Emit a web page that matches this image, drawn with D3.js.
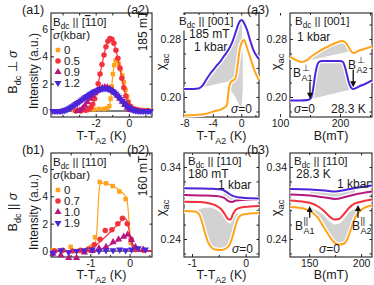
<!DOCTYPE html>
<html>
<head>
<meta charset="utf-8">
<script src="https://cdn.jsdelivr.net/npm/d3@7"></script>
<style>
body { margin:0; background:#fff; }
text { font-family: "Liberation Sans", Arial, sans-serif; fill:#1a1a1a; }
.axis text { font-size:10.5px; }
.axis line { stroke:#222; stroke-width:1; }
</style>
</head>
<body>
<div id="chart"></div>
<script>
"use strict";
(function() {

const WIDTH = 374
const HEIGHT = 285

const ORANGE = "#ffa31a"
const RED = "#f4323e"
const MAGENTA = "#b6177e"
const BLUE = "#4d25d8"
const GRAY = "#d2d2d2"

// panel boxes (pixels)
const COLS = [[51, 152], [184, 259], [290, 372]]
const ROWS = [[13, 117], [153, 257]]

// ---- (a1) neutron intensity, B || [-110] perp sigma ; [T-T_A2, intensity]
const A1_LEGEND = ["0", "0.5", "0.9", "1.2"]
const A1_ORANGE = [[-3.3,0.05],[-3.0,0.1],[-2.7,0.1],[-2.4,0.12],[-2.1,0.12],[-1.8,0.15],[-1.5,0.15],[-1.3,0.2],
  [-1.18,0.35],[-1.1,0.9],[-1.03,1.8],[-0.96,2.7],[-0.88,3.35],[-0.8,3.7],[-0.7,3.7],[-0.6,3.45],[-0.5,3.05],
  [-0.4,2.6],[-0.3,2.1],[-0.2,1.55],[-0.1,1.05],[0.0,0.65],[0.12,0.35],[0.3,0.18],[0.5,0.1],[0.75,0.07],[1.0,0.05],[1.25,0.04]]
const A1_RED = [[-3.2,0],[-2.9,0],[-2.6,0.05],[-2.45,0.1],[-2.3,0.25],[-2.18,0.5],[-2.06,0.9],[-1.95,1.4],[-1.85,2.0],
  [-1.74,2.7],[-1.62,3.4],[-1.5,4.1],[-1.38,4.7],[-1.26,5.1],[-1.14,5.3],[-1.02,5.25],[-0.9,4.95],[-0.78,4.45],
  [-0.66,3.85],[-0.54,3.15],[-0.42,2.4],[-0.3,1.7],[-0.18,1.1],[-0.06,0.65],[0.08,0.35],[0.25,0.18],[0.45,0.1],
  [0.65,0.06],[0.9,0.04],[1.15,0.03]]
const A1_MAGENTA = [[-3.1,0],[-2.95,0.05],[-2.8,0.2],[-2.65,0.4],[-2.5,0.65],[-2.35,0.9],[-2.2,1.1],[-2.05,1.3],
  [-1.9,1.48],[-1.75,1.6],[-1.6,1.7],[-1.45,1.75],[-1.3,1.72],[-1.15,1.62],[-1.0,1.5],[-0.85,1.32],[-0.7,1.12],
  [-0.55,0.9],[-0.4,0.68],[-0.25,0.45],[-0.1,0.25],[0.05,0.12],[0.2,0.05],[0.4,0.02]]
const A1_BLUE = [[-4.6,0],[-4.5,0],[-4.4,0],[-4.3,0],[-4.2,0],[-4.1,0],[-4.0,0.02],[-3.9,0.05],[-3.8,0.08],[-3.7,0.13],
  [-3.6,0.2],[-3.5,0.27],[-3.4,0.35],[-3.3,0.42],[-3.2,0.5],[-3.1,0.58],[-3.0,0.66],[-2.9,0.75],[-2.8,0.84],[-2.7,0.93],
  [-2.6,1.02],[-2.5,1.1],[-2.4,1.18],[-2.3,1.26],[-2.2,1.33],[-2.1,1.4],[-2.0,1.46],[-1.9,1.52],[-1.8,1.57],[-1.7,1.61],
  [-1.6,1.64],[-1.5,1.66],[-1.4,1.66],[-1.3,1.64],[-1.2,1.6],[-1.1,1.54],[-1.0,1.46],[-0.9,1.36],[-0.8,1.25],[-0.7,1.13],
  [-0.6,1.0],[-0.5,0.86],[-0.4,0.72],[-0.3,0.58],[-0.2,0.45],[-0.1,0.34],[0.0,0.25],[0.1,0.17],[0.2,0.11],[0.3,0.07],
  [0.4,0.04],[0.5,0.02],[0.6,0.01],[0.7,0],[0.8,0],[0.9,0],[1.0,0],[1.1,0],[1.2,0],[1.3,0]]

// ---- (b1) neutron intensity, B || [110] || sigma ; points and fitted lines
const B1_LEGEND = ["0", "0.7", "1.0", "1.9"]
const B1_ORANGE_PTS = [[-1.95,0.05],[-1.72,0.0],[-1.5,0.3],[-1.28,0.0],[-1.1,0.05],[-0.98,0.3],[-0.88,1.0],
  [-0.76,5.05],[-0.6,4.95],[-0.43,4.75],[-0.26,4.35],[-0.1,3.8],[0.03,0.6],[0.18,0.15],[0.38,0.05]]
const B1_ORANGE_FIT = [[-2,0],[-1.2,0.02],[-1.0,0.1],[-0.9,0.35],[-0.84,1.2],[-0.8,3.2],[-0.77,4.6],[-0.73,4.98],
  [-0.6,4.95],[-0.45,4.8],[-0.3,4.55],[-0.18,4.25],[-0.1,3.95],[-0.05,3.4],[-0.01,2.0],[0.03,0.7],[0.08,0.25],
  [0.2,0.08],[0.4,0.03],[0.57,0.02]]
const B1_RED_PTS = [[-1.9,0],[-1.7,0.05],[-1.45,0],[-1.25,0.05],[-1.05,0.15],[-0.9,0.45],[-0.75,0.85],[-0.62,1.5],
  [-0.45,1.55],[-0.3,2.0],[-0.18,2.4],[-0.06,2.0],[0.04,0.85],[0.15,0.1],[0.35,0.05]]
const B1_RED_FIT = [[-2,0],[-1.3,0],[-1.1,0.08],[-0.95,0.25],[-0.8,0.55],[-0.65,0.95],[-0.5,1.35],[-0.35,1.8],
  [-0.22,2.2],[-0.13,2.38],[-0.07,2.25],[-0.02,1.6],[0.03,0.8],[0.08,0.3],[0.15,0.1],[0.3,0.02],[0.57,0]]
const B1_MAG_PTS = [[-1.95,-0.2],[-1.75,-0.3],[-1.55,-0.5],[-1.35,-0.5],[-1.15,-0.1],[-0.95,0.0],[-0.78,0.2],
  [-0.6,0.3],[-0.42,0.65],[-0.28,0.85],[-0.15,1.05],[-0.05,1.2],[0.05,0.8],[0.15,0.3],[0.35,0.1]]
const B1_MAG_FIT = [[-2,0],[-1.0,0],[-0.85,0.05],[-0.7,0.18],[-0.55,0.35],[-0.4,0.6],[-0.25,0.85],[-0.12,1.08],
  [-0.05,1.2],[0.0,1.15],[0.05,0.8],[0.1,0.35],[0.17,0.1],[0.3,0.02],[0.57,0]]
const B1_BLUE_PTS = [[-1.95,-0.15],[-1.75,0.05],[-1.55,-0.1],[-1.35,0.0],[-1.15,0.05],[-0.95,0.1],[-0.78,0.0],
  [-0.6,0.05],[-0.42,0.05],[-0.25,0.1],[-0.1,0.05],[0.05,0.1],[0.22,0.2],[0.4,0.1]]

// ---- (a2) chi_ac vs T, B || [001], 185 mT
const A2_BLUE = [[-8.05,0.2110],[-7.2,0.2110],[-6.08,0.2117],[-5.65,0.2138],[-5.37,0.2166],[-4.95,0.2234],
  [-4.39,0.2317],[-3.83,0.2386],[-3.4,0.2441],[-2.98,0.2483],[-2.56,0.2545],[-2.0,0.2621],[-1.58,0.2690],
  [-1.15,0.2786],[-0.73,0.2910],[-0.45,0.2993],[-0.17,0.3048],[0.11,0.3062],[0.39,0.3021],[0.82,0.2924],
  [1.24,0.2786],[1.66,0.2662],[2.08,0.2579],[2.5,0.2524]]
const A2_ORANGE = [[-8.05,0.1745],[-6.5,0.1752],[-5.1,0.1766],[-3.7,0.1807],[-2.72,0.1834],[-2.0,0.189],
  [-1.86,0.2014],[-1.72,0.2124],[-1.58,0.218],[-1.3,0.222],[-1.02,0.2234],[-0.73,0.229],[-0.45,0.248],
  [-0.17,0.2676],[0.11,0.276],[0.39,0.2786],[0.82,0.2676],[1.38,0.251],[1.94,0.2345],[2.5,0.2234]]
const A2_GRAY_LOW = [[-1.8,0.2215],[-5.45,0.2135]]
const A2_GRAY_WEDGE = [[-1.72,0.2124],[-1.58,0.218],[-1.3,0.222],[-1.02,0.2234],[-0.73,0.229],[-0.45,0.248],
  [-0.17,0.2676],[0.11,0.276],[0.22,0.25],[0.22,0.21],[0.05,0.185],[-0.3,0.19],[-1.0,0.203]]

// ---- (a3) chi_ac vs B, B || [001], 28.3 K
const A3_BLUE = [[116.7,0.1952],[133.3,0.1952],[146.7,0.1959],[151.7,0.1986],[155,0.2097],[158.3,0.229],
  [161.7,0.2428],[165,0.2483],[170,0.2497],[183.3,0.2497],[200,0.2497],[205,0.2483],[208.3,0.2414],[211.7,0.2303],
  [215,0.2193],[218.3,0.2131],[221.7,0.211],[226.7,0.2124],[233.3,0.2152],[241.7,0.2179],[253.3,0.2228]]
const A3_ORANGE = [[116.7,0.2552],[126.7,0.251],[136.7,0.2483],[145,0.251],[153.3,0.2566],[163.3,0.2621],
  [175,0.2676],[186.7,0.2724],[196.7,0.2759],[203.3,0.2772],[208.3,0.2759],[213.3,0.2703],[218.3,0.2634],
  [223.3,0.2607],[230,0.2634],[240,0.2662],[253.3,0.2697]]
const A3_GRAY_ORANGE = [136.7, 221]
const A3_GRAY_BLUE = [151.7, 221.7]
const A3_GRAY_BLUE_START = [151.7, 0.1972]

// ---- (b2) chi_ac vs T, B || [110], 180 mT
const B2_BLUE = [[-1.15,0.3104],[-0.85,0.3101],[-0.6,0.3096],[-0.5,0.3092],[-0.42,0.308],[-0.34,0.3045],
  [-0.26,0.3005],[-0.18,0.2985],[-0.1,0.2976],[0.08,0.2965],[0.25,0.2963]]
const B2_MAGENTA = [[-1.15,0.3011],[-0.85,0.3004],[-0.55,0.2997],[-0.4,0.297],[-0.32,0.2925],[-0.25,0.2914],
  [-0.18,0.2935],[0.0,0.2942],[0.25,0.2949]]
const B2_RED = [[-1.15,0.2918],[-0.85,0.2914],[-0.665,0.2893],[-0.553,0.2865],[-0.459,0.2817],[-0.385,0.274],
  [-0.329,0.2678],[-0.282,0.2671],[-0.235,0.2747],[-0.179,0.281],[-0.086,0.2838],[0.082,0.2851],[0.25,0.2858]]
const B2_ORANGE = [[-1.15,0.2789],[-0.945,0.2782],[-0.87,0.2747],[-0.814,0.2636],[-0.758,0.2483],[-0.702,0.2358],
  [-0.646,0.2289],[-0.571,0.2254],[-0.459,0.2247],[-0.366,0.2268],[-0.291,0.2331],[-0.235,0.2456],[-0.179,0.2608],
  [-0.123,0.2706],[-0.049,0.274],[0.082,0.2754],[0.25,0.2761]]
const B2_GRAY_TOP = [[-0.92,0.2795],[-0.8,0.2828],[-0.66,0.2838],[-0.55,0.281],[-0.46,0.276],[-0.39,0.2685],
  [-0.33,0.2625],[-0.28,0.2615],[-0.235,0.2685],[-0.18,0.2745],[-0.12,0.2758]]

// ---- (b3) chi_ac vs B, B || [110], 28.3 K
const B3_BLUE = [[131.5,0.3094],[150.8,0.3088],[165.2,0.3074],[174.9,0.3060],[184.5,0.3081],[194.1,0.3108],[210.5,0.3143]]
const B3_MAGENTA = [[131.5,0.3018],[150.8,0.3004],[165.2,0.2976],[174.9,0.2956],[184.5,0.2983],[194.1,0.3018],[210.5,0.3060]]
const B3_RED = [[131.5,0.2935],[145.9,0.2914],[152.7,0.2893],[158.5,0.2851],[164.3,0.2789],[169.1,0.2719],
  [173.9,0.2671],[178.7,0.2678],[183.5,0.2747],[188.3,0.2831],[194.1,0.2893],[200.9,0.2921],[210.5,0.2949]]
const B3_ORANGE = [[131.5,0.2844],[145.9,0.2817],[153.7,0.2761],[158.5,0.2692],[163.3,0.2581],[168.1,0.2469],
  [172.9,0.2372],[177.7,0.2324],[182.5,0.2331],[186.4,0.2386],[190.3,0.2539],[194.1,0.2692],[198.9,0.2789],
  [204.7,0.2844],[210.5,0.2865]]
const B3_GRAY_TOP = [[145.9,0.2838],[152.7,0.2824],[158.5,0.2789],[164.3,0.2726],[169.1,0.265],[173.9,0.2601],
  [178.7,0.2608],[183.5,0.2678],[188.3,0.2768],[194.1,0.2824],[198.9,0.2817]]

const svg = d3.select("#chart").append("svg")
    .attr("width", WIDTH)
    .attr("height", HEIGHT)

// text with sub / sup / italic / overline runs
function rich(g, x, y, parts, size) {
    let t = g.append("text").attr("x", x).attr("y", y).style("font-size", size + "px")
    let shift = 0
    parts.forEach(p => {
        let s = typeof p === "string" ? [p, ""] : p
        let target = 0
        if (s[1] === "sub") target = size * 0.3
        if (s[1] === "sup") target = -size * 0.42
        let sp = t.append("tspan").text(s[0]).attr("dy", target - shift)
        if (s[1] === "sub" || s[1] === "sup") sp.style("font-size", (size * 0.72) + "px")
        if (s[1] === "it") sp.style("font-style", "italic")
        if (s[1] === "bar") sp.style("text-decoration", "overline")
        shift = target
    })
    return t
}

function vtext(x, y, parts, size) {
    rich(svg, 0, 0, parts, size)
        .attr("text-anchor", "middle")
        .attr("transform", `translate(${x},${y}) rotate(-90)`)
}

function panel(col, row, xd, yd) {
    let x = d3.scaleLinear().domain(xd).range(col)
    let y = d3.scaleLinear().domain(yd).range([row[1], row[0]])
    return { x: x, y: y, col: col, row: row, g: svg.append("g") }
}

function frame(p, o) {
    let g = p.g
    let fmt = o.yf || (d => String(d))
    let ax = g.append("g").attr("class", "axis")
    ax.append("g").attr("transform", `translate(0,${p.row[1]})`)
        .call(d3.axisBottom(p.x).tickValues(o.xt).tickSize(-3).tickPadding(3).tickFormat(d => String(d)))
    ax.append("g").attr("transform", `translate(0,${p.row[1]})`)
        .call(d3.axisBottom(p.x).tickValues(o.xm).tickSize(-2).tickFormat(""))
    ax.append("g").attr("transform", `translate(0,${p.row[0]})`)
        .call(d3.axisTop(p.x).tickValues(o.xt.concat(o.xm)).tickSize(-2.5).tickFormat(""))
    ax.append("g").attr("transform", `translate(${p.col[0]},0)`)
        .call(d3.axisLeft(p.y).tickValues(o.yt).tickSize(-3).tickPadding(3).tickFormat(fmt))
    ax.append("g").attr("transform", `translate(${p.col[0]},0)`)
        .call(d3.axisLeft(p.y).tickValues(o.ym).tickSize(-2).tickFormat(""))
    ax.append("g").attr("transform", `translate(${p.col[1]},0)`)
        .call(d3.axisRight(p.y).tickValues(o.yt.concat(o.ym)).tickSize(-2.5).tickFormat(""))
    ax.selectAll(".domain").remove()
    g.append("rect")
        .attr("x", p.col[0]).attr("y", p.row[0])
        .attr("width", p.col[1] - p.col[0]).attr("height", p.row[1] - p.row[0])
        .attr("fill", "none").attr("stroke", "#222").attr("stroke-width", 1.1)
}

function lineOf(p) {
    return d3.line().x(d => p.x(d[0])).y(d => p.y(d[1])).curve(d3.curveMonotoneX)
}

function curve(p, data, color, halo) {
    let line = lineOf(p)
    if (halo) {
        p.g.append("path").attr("d", line(data)).attr("fill", "none")
            .attr("stroke", "#fff").attr("stroke-width", 4.5)
    }
    p.g.append("path").attr("d", line(data)).attr("fill", "none")
        .attr("stroke", color).attr("stroke-width", halo ? 2 : 1.2)
}

function poly(p, pts) {
    p.g.append("path")
        .attr("d", d3.line().x(d => p.x(d[0])).y(d => p.y(d[1]))(pts) + "Z")
        .attr("fill", GRAY).attr("stroke", "none")
}

function between(data, lo, hi) { return data.filter(d => d[0] >= lo && d[0] <= hi) }

const SYMS = [
    { type: d3.symbolSquare, size: 20, rot: 0, color: ORANGE },
    { type: d3.symbolCircle, size: 24, rot: 0, color: RED },
    { type: d3.symbolTriangle, size: 22, rot: 0, color: MAGENTA },
    { type: d3.symbolTriangle, size: 22, rot: 180, color: BLUE }
]

function markers(p, data, k) {
    let s = SYMS[k]
    p.g.append("g").selectAll("path").data(data).join("path")
        .attr("d", d3.symbol().type(s.type).size(s.size))
        .attr("transform", d => `translate(${p.x(d[0])},${p.y(d[1])}) rotate(${s.rot})`)
        .attr("fill", s.color)
}

function legend(p, labels, dir) {
    let x0 = p.col[0] + 2, y0 = p.row[0]
    rich(p.g, x0, y0 + 13, ["B", ["dc", "sub"], " || ["].concat(dir).concat(["]"]), 11.5)
    rich(p.g, x0, y0 + 26, [["\u03c3", "it"], "(kbar)"], 11.5)
    labels.forEach((l, i) => {
        let yy = y0 + 37 + i * 11
        let s = SYMS[i]
        p.g.append("path").attr("d", d3.symbol().type(s.type).size(s.size)())
            .attr("transform", `translate(${x0 + 5},${yy}) rotate(${s.rot})`).attr("fill", s.color)
        p.g.append("text").attr("x", x0 + 11).attr("y", yy + 4).style("font-size", "11.5px").text(l)
    })
}

function intensityPanel(row, xd, xt, xm) {
    let p = panel(COLS[0], row, xd, [-0.44, 7.17])
    frame(p, { xt: xt, xm: xm, yt: [0, 2, 4, 6], ym: [] })
    p.g.append("line")
        .attr("x1", p.col[0]).attr("x2", p.col[1]).attr("y1", p.y(0)).attr("y2", p.y(0))
        .attr("stroke", "#555").attr("stroke-width", 1.6)
    return p
}

// ---------- (a1)
let a1 = intensityPanel(ROWS[0], [-4.7, 1.4], [-2, 0], [-4, -3, -1, 1])
curve(a1, A1_ORANGE, ORANGE); markers(a1, A1_ORANGE, 0)
curve(a1, A1_RED, RED); markers(a1, A1_RED, 1)
curve(a1, A1_MAGENTA, MAGENTA); markers(a1, A1_MAGENTA, 2)
curve(a1, A1_BLUE, BLUE); markers(a1, A1_BLUE, 3)
legend(a1, A1_LEGEND, [["1", "bar"], "10"])

// ---------- (b1)
let b1 = intensityPanel(ROWS[1], [-2.0, 0.57], [-1, 0], [-1.5, -0.5, 0.5])
curve(b1, B1_ORANGE_FIT, ORANGE); markers(b1, B1_ORANGE_PTS, 0)
curve(b1, B1_RED_FIT, RED); markers(b1, B1_RED_PTS, 1)
curve(b1, B1_MAG_FIT, MAGENTA); markers(b1, B1_MAG_PTS, 2)
markers(b1, B1_BLUE_PTS, 3)
legend(b1, B1_LEGEND, ["110"])

// ---------- (a2)
let a2 = panel(COLS[1], ROWS[0], [-8.05, 2.5], [0.1724, 0.3159])
frame(a2, { xt: [-8, -4, 0], xm: [-6, -2, 2], yt: [0.20, 0.28], ym: [0.18, 0.22, 0.24, 0.26, 0.30], yf: d3.format(".2f") })
poly(a2, between(A2_BLUE, -5.4, 0.2).concat(between(A2_ORANGE, -1.8, 0.2).reverse()).concat(A2_GRAY_LOW))
poly(a2, A2_GRAY_WEDGE)
curve(a2, A2_ORANGE, ORANGE, true)
curve(a2, A2_BLUE, BLUE, true)

// ---------- (a3)
let a3 = panel(COLS[2], ROWS[0], [116.7, 253.3], [0.1724, 0.3159])
frame(a3, { xt: [100, 200], xm: [150, 250], yt: [0.20, 0.28], ym: [0.18, 0.22, 0.24, 0.26, 0.30], yf: d3.format(".2f") })
poly(a3, between(A3_ORANGE, A3_GRAY_ORANGE[0], A3_GRAY_ORANGE[1]))
poly(a3, [A3_GRAY_BLUE_START].concat(between(A3_BLUE, A3_GRAY_BLUE[0] + 1, A3_GRAY_BLUE[1])))
curve(a3, A3_ORANGE, ORANGE, true)
curve(a3, A3_BLUE, BLUE, true)

// ---------- (b2)
let b2 = panel(COLS[1], ROWS[1], [-1.15, 0.25], [0.215, 0.3594])
frame(b2, { xt: [-1, 0], xm: [-0.5], yt: [0.24, 0.34], ym: [0.22, 0.26, 0.28, 0.30, 0.32], yf: d3.format(".2f") })
poly(b2, B2_GRAY_TOP.concat(between(B2_ORANGE, -0.92, -0.12).reverse()))
poly(b2, between(B2_BLUE, -0.45, 0.25).concat(between(B2_MAGENTA, -0.45, 0.25).reverse()))
curve(b2, B2_ORANGE, ORANGE, true)
curve(b2, B2_RED, RED, true)
curve(b2, B2_MAGENTA, MAGENTA, true)
curve(b2, B2_BLUE, BLUE, true)

// ---------- (b3)
let b3 = panel(COLS[2], ROWS[1], [131.5, 210.5], [0.215, 0.3594])
frame(b3, { xt: [150, 200], xm: [175], yt: [0.24, 0.34], ym: [0.22, 0.26, 0.28, 0.30, 0.32], yf: d3.format(".2f") })
poly(b3, B3_GRAY_TOP.concat(between(B3_ORANGE, 145.9, 198.9).reverse()))
poly(b3, between(B3_BLUE, 150, 195).concat(between(B3_MAGENTA, 150, 195).reverse()))
curve(b3, B3_ORANGE, ORANGE, true)
curve(b3, B3_RED, RED, true)
curve(b3, B3_MAGENTA, MAGENTA, true)
curve(b3, B3_BLUE, BLUE, true)

// ---------- arrows
function arrow(p, xv, y1, y2) {
    let x = p.x(xv), ya = p.y(y1), yb = p.y(y2)
    let dir = yb > ya ? 1 : -1
    p.g.append("line").attr("x1", x).attr("x2", x).attr("y1", ya).attr("y2", yb - dir * 4)
        .attr("stroke", "#111").attr("stroke-width", 1.3)
    p.g.append("path")
        .attr("d", `M${x - 3},${yb - dir * 6}L${x + 3},${yb - dir * 6}L${x},${yb}Z`)
        .attr("fill", "#111")
}
function bLabel(g, x, y, sup, sub) {
    g.append("text").attr("x", x).attr("y", y).style("font-size", "12px").text("B")
    g.append("text").attr("x", x + 8.5).attr("y", y - 6).style("font-size", "9px").text(sup)
    g.append("text").attr("x", x + 8.5).attr("y", y + 3.5).style("font-size", "9px").text(sub)
}
arrow(a3, 150, 0.2215, 0.1975); bLabel(a3.g, 293, 77, "\u22a5", "A1")
arrow(a3, 222, 0.2375, 0.2135); bLabel(a3.g, 348, 69, "\u22a5", "A2")
arrow(b3, 150.5, 0.2695, 0.2858); bLabel(b3.g, 295, 230, "||", "A1")
arrow(b3, 197, 0.2695, 0.2872); bLabel(b3.g, 352, 230, "||", "A2")

// ---------- annotations
function header(p, x, y, dir) {
    let t = rich(p.g, x, y, ["B", ["dc", "sub"], " || [" + dir + "]"], 11.5)
    let bb = t.node().getBBox()
    p.g.insert("rect", () => t.node()).attr("x", bb.x - 1).attr("y", bb.y).attr("width", bb.width + 2)
        .attr("height", bb.height).attr("fill", "#fff")
}
header(a2, 179, 25, "001")
rich(a2.g, 189, 38, ["185 mT"], 12)
rich(a2.g, 194, 51, ["1 kbar"], 12)
rich(a2.g, 231, 113, [["\u03c3", "it"], "=0"], 12)

header(a3, 295, 25, "001")
rich(a3.g, 297, 41, ["1 kbar"], 12)
rich(a3.g, 294, 113, [["\u03c3", "it"], "=0"], 12)
rich(a3.g, 331, 113, ["28.3 K"], 12)

header(b2, 188, 165, "110")
rich(b2.g, 188, 178, ["180 mT"], 12)
rich(b2.g, 218, 189, ["1 kbar"], 12)
rich(b2.g, 232, 253, [["\u03c3", "it"], "=0"], 12)

header(b3, 294, 165, "110")
rich(b3.g, 296, 178, ["28.3 K"], 12)
rich(b3.g, 337, 188, ["1 kbar"], 12)
rich(b3.g, 319, 253, [["\u03c3", "it"], "=0"], 12)

// panel tags
rich(svg, 22, 14, ["(a1)"], 12.5)
rich(svg, 127, 14, ["(a2)"], 12.5)
rich(svg, 247, 14, ["(a3)"], 12.5)
rich(svg, 22, 154, ["(b1)"], 12.5)
rich(svg, 127, 154, ["(b2)"], 12.5)
rich(svg, 247, 154, ["(b3)"], 12.5)

// axis titles
const TT = ["T-T", ["A2", "sub"], " (K)"]
rich(svg, 101.5, 140, TT, 12.5).attr("text-anchor", "middle")
rich(svg, 221.5, 140, TT, 12.5).attr("text-anchor", "middle")
rich(svg, 331, 140, ["B(mT)"], 12.5).attr("text-anchor", "middle")
rich(svg, 101.5, 279, TT, 12.5).attr("text-anchor", "middle")
rich(svg, 221.5, 279, TT, 12.5).attr("text-anchor", "middle")
rich(svg, 331, 279, ["B(mT)"], 12.5).attr("text-anchor", "middle")

vtext(38, 71, ["Intensity (a.u.)"], 12)
vtext(38, 212, ["Intensity (a.u.)"], 12)
vtext(17, 72, ["B", ["dc", "sub"], " \u22a5 ", ["\u03c3", "it"]], 12.5)
vtext(17, 212, ["B", ["dc", "sub"], " || ", ["\u03c3", "it"]], 12.5)
vtext(147, 31, ["185 mT"], 12)
vtext(147, 176, ["160 mT"], 12)
vtext(165, 62, ["\u03c7", ["ac", "sub"]], 13)
vtext(280, 62, ["\u03c7", ["ac", "sub"]], 13)
vtext(165, 208, ["\u03c7", ["ac", "sub"]], 13)
vtext(280, 208, ["\u03c7", ["ac", "sub"]], 13)

})();
</script>
</body>
</html>
